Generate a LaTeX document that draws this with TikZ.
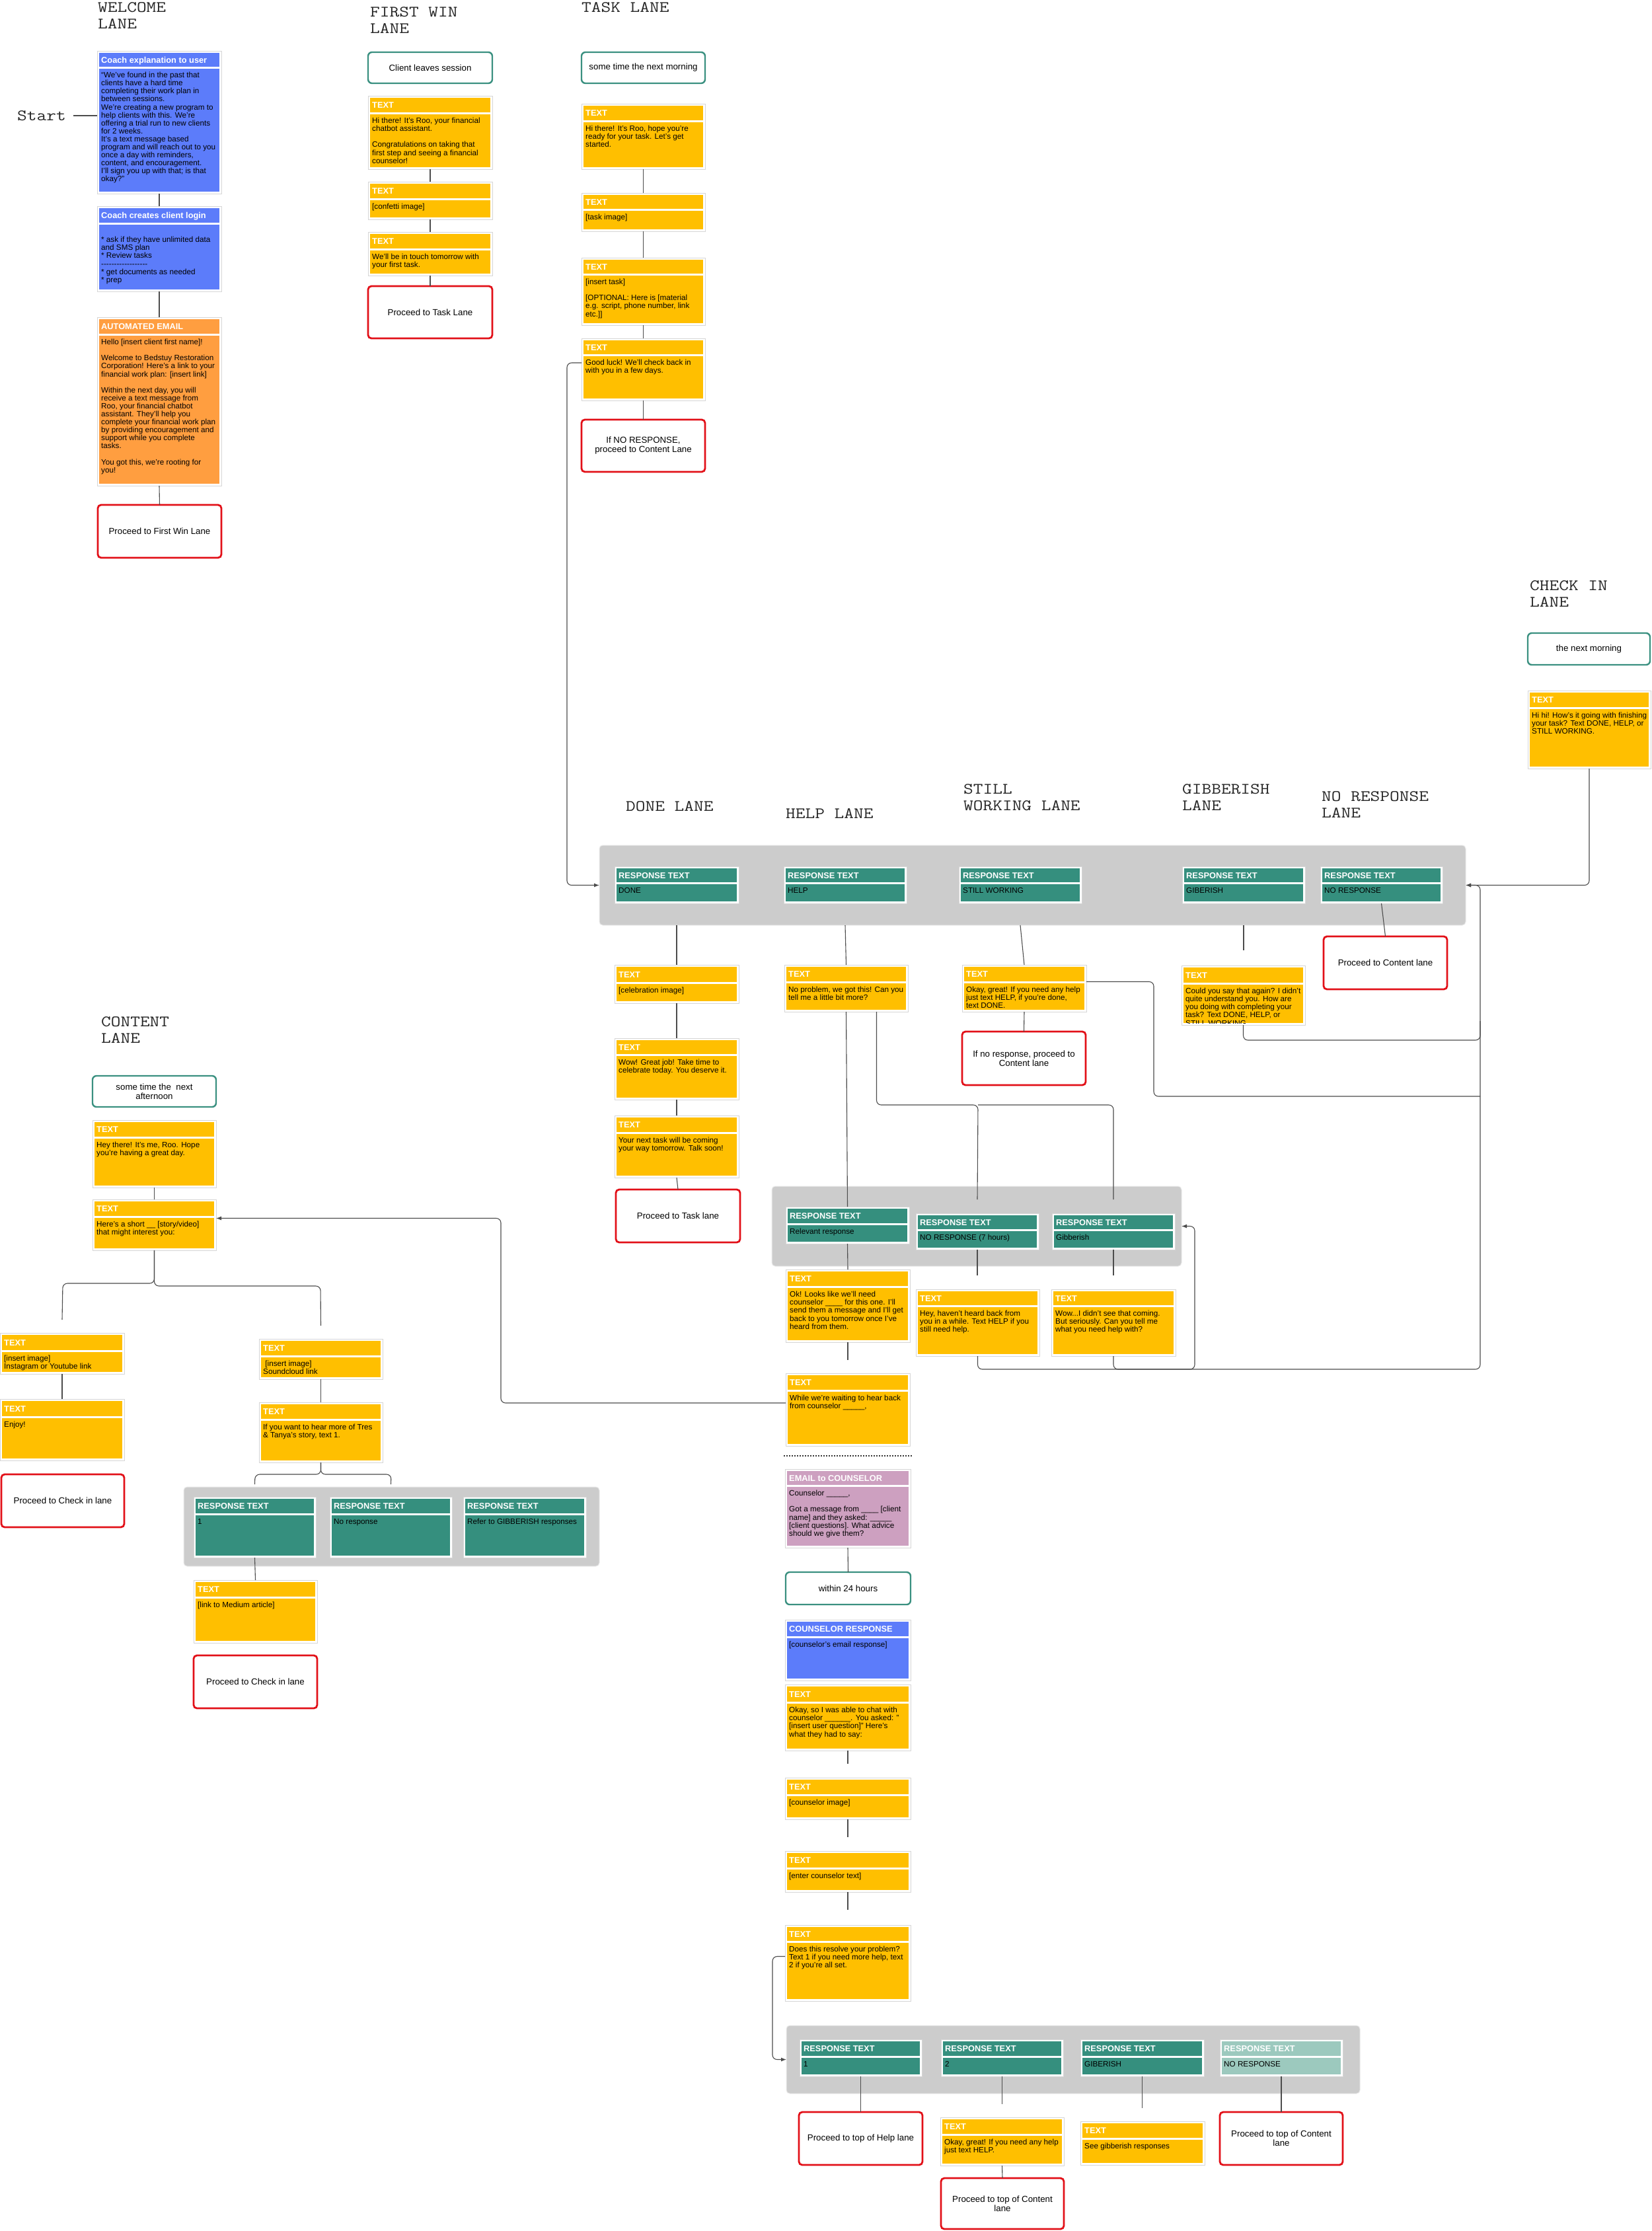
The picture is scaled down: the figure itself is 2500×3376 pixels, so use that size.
\documentclass[tikz,border=0pt]{standalone}
\usepackage{fontspec}
\setmainfont{Liberation Sans}
\newfontfamily\lanefont{Latin Modern Mono}[FakeStretch=1.19]
\usetikzlibrary{arrows.meta}
\definecolor{yel}{RGB}{255,191,0}
\definecolor{blu}{RGB}{92,124,250}
\definecolor{org}{RGB}{255,158,64}
\definecolor{tea}{RGB}{53,143,126}
\definecolor{ltea}{RGB}{156,201,190}
\definecolor{pnk}{RGB}{205,160,192}
\definecolor{redb}{RGB}{226,16,24}
\definecolor{tealb}{RGB}{58,144,128}
\definecolor{greyf}{RGB}{204,204,204}
\newcommand\hdrsize{\fontsize{12.8}{14}\selectfont\bfseries}
\newcommand\bdysize{\fontsize{11.7}{12.1}\selectfont}
\newcommand\boxsize{\fontsize{13.3}{14}\selectfont}
\newcommand\titlesize{\lanefont\fontsize{24}{25.5}\selectfont}
\newcommand\hy{\mbox{-}}
\tikzset{
  cardframe/.style={rectangle, draw=black!16, fill=white, line width=0.8pt, inner sep=0pt, outer sep=0pt},
  hdr/.style={font=\hdrsize, text=white, inner sep=0pt},
  bdy/.style={font=\bdysize, text=black, align=left, inner sep=0pt},
  redbox/.style={rectangle, draw=redb, line width=2.8pt, rounded corners=5pt, fill=white, inner sep=0pt, outer sep=0pt, align=center, font=\boxsize},
  tealbox/.style={rectangle, draw=tealb, line width=2.4pt, rounded corners=6pt, fill=white, inner sep=0pt, outer sep=0pt, align=center, font=\boxsize},
  greybox/.style={rectangle, fill=greyf, draw=black!8, line width=1pt, rounded corners=5pt, inner sep=0pt, outer sep=0pt},
  lanetitle/.style={font=\titlesize, align=left, inner sep=0pt, text=black!85},
  conn/.style={draw=black!70, line width=1.1pt},
  arr/.style={-{Latex[length=8pt,width=6pt]}},
  rc/.style={rounded corners=7pt},
}
% name, left, top, right, bottom, header bottom, colour, header, body
\newcommand\card[9]{%
  \node[cardframe, anchor=north west, minimum width=#4-#2, minimum height=#5-#3] (#1) at (#2,#3) {};
  \fill[#7] (#2+3,#3+3) rectangle (#4-3,#6);
  \fill[#7] (#2+3,#6+2.5) rectangle (#4-3,#5-3);
  \node[hdr, anchor=base west] at (#2+6,{(#3+3+#6)/2+4.6}) {#8};
  \begin{scope}
    \clip (#2+3,#6+2.5) rectangle (#4-3,#5-3);
    \node[bdy, anchor=north west] at (#2+6,#6+8) {#9};
  \end{scope}
}
% name, style, left, top, right, bottom, text
\newcommand\plainbox[7]{%
  \node[#2, anchor=north west, minimum width=#5-#3, minimum height=#6-#4] (#1) at (#3,#4) {#7};
}
\begin{document}
\begin{tikzpicture}[x=1pt,y=-1pt]
\fill[white] (0,0) rectangle (2500,3376);
\useasboundingbox (0,0) rectangle (2500,3376);

% ---------------- lane titles
\node[lanetitle, anchor=north west] (tWel) at (148,3) {WELCOME\\LANE};
\node[lanetitle, anchor=north west] (tFw) at (560,10) {FIRST WIN\\LANE};
\node[lanetitle, anchor=north west] (tTk) at (880,3) {TASK LANE};
\node[lanetitle, anchor=north west] (tCk) at (2315,878) {CHECK IN\\LANE};
\node[lanetitle, anchor=north west] (tDn) at (947,1212) {DONE LANE};
\node[lanetitle, anchor=north west] (tHp) at (1189,1223) {HELP LANE};
\node[lanetitle, anchor=north west] (tSw) at (1458,1186) {STILL\\WORKING LANE};
\node[lanetitle, anchor=north west] (tGb) at (1789,1186) {GIBBERISH\\LANE};
\node[lanetitle, anchor=north west] (tNr) at (2000,1197) {NO RESPONSE\\LANE};
\node[lanetitle, anchor=north west] (tCt) at (153,1538) {CONTENT\\LANE};

% ---------------- welcome lane
\node[font=\titlesize, anchor=west, inner sep=0pt, text=black!85] (start) at (26,175) {Start};
\card{wel1}{147}{77}{335}{293}{101}{blu}{Coach explanation to user}{“We've found in the past that\\clients have a hard time\\completing their work plan in\\between sessions.\\We're creating a new program to\\help clients with this. We're\\offering a trial run to new clients\\for 2 weeks.\\It's a text message based\\program and will reach out to you\\once a day with reminders,\\content, and encouragement.\\I'll sign you up with that; is that\\okay?”}
\card{wel2}{147}{312}{335}{441}{337}{blu}{Coach creates client login}{\strut\\{*} ask if they have unlimited data\\and SMS plan\\{*} Review tasks\\\hy\hy\hy\hy\hy\hy\hy\hy\hy\hy\hy\hy\hy\hy\hy\hy\hy\hy\\{*} get documents as needed\\{*} prep}
\card{wel3}{147}{480}{335}{735}{505}{org}{AUTOMATED EMAIL}{Hello [insert client first name]!\\[12.1pt]Welcome to Bedstuy Restoration\\Corporation! Here's a link to your\\financial work plan: [insert link]\\[12.1pt]Within the next day, you will\\receive a text message from\\Roo, your financial chatbot\\assistant. They'll help you\\complete your financial work plan\\by providing encouragement and\\support while you complete\\tasks.\\[12.1pt]You got this, we're rooting for\\you!}
\plainbox{welred}{redbox}{148}{764}{335}{844}{Proceed to First Win Lane}

% ---------------- first win lane
\plainbox{fwteal}{tealbox}{557}{79}{745}{126}{Client leaves session}
\card{fw1}{557}{145}{745}{256}{170}{yel}{TEXT}{Hi there! It's Roo, your financial\\chatbot assistant.\\[12.1pt]Congratulations on taking that\\first step and seeing a financial\\counselor!}
\card{fw2}{557}{275}{745}{332}{300}{yel}{TEXT}{[confetti image]}
\card{fw3}{557}{351}{745}{417}{376}{yel}{TEXT}{We'll be in touch tomorrow with\\your first task.}
\plainbox{fwred}{redbox}{557}{433}{745}{512}{Proceed to Task Lane}

% ---------------- task lane
\plainbox{tkteal}{tealbox}{880}{79}{1067}{126}{some time the next morning}
\card{tk1}{880}{157}{1067}{256}{182}{yel}{TEXT}{Hi there! It's Roo, hope you're\\ready for your task. Let's get\\started.}
\card{tk2}{880}{292}{1067}{350}{316}{yel}{TEXT}{[task image]}
\card{tk3}{880}{390}{1067}{492}{414}{yel}{TEXT}{[insert task]\\[12.1pt][OPTIONAL: Here is [material\\e.g. script, phone number, link\\etc.]]}
\card{tk4}{880}{512}{1067}{606}{536}{yel}{TEXT}{Good luck! We'll check back in\\with you in a few days.}
\plainbox{tkred}{redbox}{880}{635}{1067}{714}{If NO RESPONSE,\\proceed to Content Lane}

% ---------------- check in lane
\plainbox{ckteal}{tealbox}{2312}{958}{2497}{1006}{the next morning}
\card{ck1}{2312}{1045}{2498}{1163}{1070}{yel}{TEXT}{Hi hi! How's it going with finishing\\your task? Text DONE, HELP, or\\STILL WORKING.}

% ---------------- main response box
\node[greybox, anchor=north west, minimum width=1311, minimum height=121] (mainbox) at (907,1279) {};
\card{rDone}{930}{1311}{1118}{1367}{1335}{tea}{RESPONSE TEXT}{DONE}
\card{rHelp}{1186}{1311}{1372}{1367}{1335}{tea}{RESPONSE TEXT}{HELP}
\card{rStill}{1451}{1311}{1637}{1367}{1335}{tea}{RESPONSE TEXT}{STILL WORKING}
\card{rGib}{1789}{1311}{1975}{1367}{1335}{tea}{RESPONSE TEXT}{GIBERISH}
\card{rNo}{1998}{1311}{2183}{1367}{1335}{tea}{RESPONSE TEXT}{NO RESPONSE}

% ---------------- done lane
\card{dn1}{930}{1460}{1118}{1518}{1486}{yel}{TEXT}{[celebration image]}
\card{dn2}{930}{1571}{1118}{1664}{1595}{yel}{TEXT}{Wow! Great job! Take time to\\celebrate today. You deserve it.}
\card{dn3}{930}{1688}{1118}{1782}{1713}{yel}{TEXT}{Your next task will be coming\\your way tomorrow. Talk soon!}
\plainbox{dnred}{redbox}{932}{1800}{1120}{1880}{Proceed to Task lane}

% ---------------- help / still / gibberish / no response lanes
\card{hp1}{1187}{1460}{1374}{1531}{1485}{yel}{TEXT}{No problem, we got this! Can you\\tell me a little bit more?}
\card{sw}{1456}{1460}{1644}{1531}{1485}{yel}{TEXT}{Okay, great! If you need any help\\just text HELP, if you're done,\\text DONE.}
\plainbox{swred}{redbox}{1456}{1561}{1643}{1642}{If no response, proceed to\\Content lane}
\card{gt}{1788}{1461}{1975}{1551}{1487}{yel}{TEXT}{Could you say that again? I didn't\\quite understand you. How are\\you doing with completing your\\task? Text DONE, HELP, or\\STILL WORKING.}
\plainbox{noRed}{redbox}{2003}{1417}{2190}{1497}{Proceed to Content lane}

\node[greybox, anchor=north west, minimum width=620, minimum height=121] (hbox) at (1168,1795) {};
\card{hr1}{1189}{1826}{1376}{1882}{1851}{tea}{RESPONSE TEXT}{Relevant response}
\card{hr2}{1386}{1836}{1572}{1891}{1860}{tea}{RESPONSE TEXT}{NO RESPONSE (7 hours)}
\card{hr3}{1592}{1836}{1778}{1891}{1860}{tea}{RESPONSE TEXT}{Gibberish}
\card{hp2}{1189}{1921}{1377}{2031}{1946}{yel}{TEXT}{Ok! Looks like we'll need\\counselor \_\_\_\_ for this one. I'll\\send them a message and I'll get\\back to you tomorrow once I've\\heard from them.}
\card{hp3}{1386}{1951}{1573}{2052}{1975}{yel}{TEXT}{Hey, haven't heard back from\\you in a while. Text HELP if you\\still need help.}
\card{hp4}{1591}{1951}{1779}{2052}{1975}{yel}{TEXT}{Wow...I didn't see that coming.\\But seriously. Can you tell me\\what you need help with?}
\card{hp5}{1189}{2078}{1377}{2188}{2103}{yel}{TEXT}{While we're waiting to hear back\\from counselor \_\_\_\_\_,}

\draw[black!80, line width=1.6pt, dash pattern=on 2pt off 2pt] (1186,2203) -- (1380,2203);

\card{em}{1188}{2223}{1378}{2342}{2247}{pnk}{EMAIL to COUNSELOR}{Counselor \_\_\_\_\_,\\[12.1pt]Got a message from \_\_\_\_ [client\\name] and they asked: \_\_\_\_\_\\{}[client questions]. What advice\\should we give them?}
\plainbox{w24}{tealbox}{1189}{2379}{1378}{2428}{within 24 hours}
\card{cresp}{1188}{2451}{1378}{2543}{2476}{blu}{COUNSELOR RESPONSE}{[counselor's email response]}
\card{hl1}{1188}{2549}{1378}{2649}{2575}{yel}{TEXT}{Okay, so I was able to chat with\\counselor \_\_\_\_\_\_. You asked: "\\{}[insert user question]" Here's\\what they had to say:}
\card{hl2}{1188}{2690}{1378}{2753}{2715}{yel}{TEXT}{[counselor image]}
\card{hl3}{1188}{2801}{1378}{2863}{2826}{yel}{TEXT}{[enter counselor text]}
\card{hl4}{1188}{2913}{1378}{3028}{2937}{yel}{TEXT}{Does this resolve your problem?\\Text 1 if you need more help, text\\2 if you're all set.}

% ---------------- bottom response box
\node[greybox, anchor=north west, minimum width=868, minimum height=103] (bbox) at (1190,3065) {};
\card{b1}{1210}{3086}{1395}{3142}{3111}{tea}{RESPONSE TEXT}{1}
\card{b2}{1424}{3086}{1609}{3142}{3111}{tea}{RESPONSE TEXT}{2}
\card{b3}{1635}{3086}{1822}{3142}{3111}{tea}{RESPONSE TEXT}{GIBERISH}
\card{b4}{1846}{3086}{2032}{3142}{3111}{ltea}{RESPONSE TEXT}{NO RESPONSE}
\plainbox{bred1}{redbox}{1209}{3196}{1396}{3276}{Proceed to top of Help lane}
\card{bt2}{1423}{3204}{1610}{3277}{3229}{yel}{TEXT}{Okay, great! If you need any help\\just text HELP.}
\plainbox{bred2}{redbox}{1424}{3296}{1610}{3373}{Proceed to top of Content\\lane}
\card{bt3}{1635}{3210}{1823}{3276}{3235}{yel}{TEXT}{See gibberish responses}
\plainbox{bred4}{redbox}{1846}{3196}{2032}{3276}{Proceed to top of Content\\lane}

% ---------------- content lane
\plainbox{ctteal}{tealbox}{140}{1628}{327}{1675}{some time the \ next\\afternoon}
\card{ct1}{140}{1695}{327}{1797}{1720}{yel}{TEXT}{Hey there! It's me, Roo. Hope\\you're having a great day.}
\card{ct2}{140}{1815}{327}{1892}{1840}{yel}{TEXT}{Here's a short \_\_ [story/video]\\that might interest you:}
\card{ct3}{0}{2017}{188}{2079}{2043}{yel}{TEXT}{[insert image]\\Instagram or Youtube link}
\card{ct4}{0}{2117}{188}{2210}{2143}{yel}{TEXT}{Enjoy!}
\plainbox{ctred1}{redbox}{2}{2231}{188}{2311}{Proceed to Check in lane}
\card{ct5}{392}{2026}{579}{2087}{2051}{yel}{TEXT}{\ [insert image]\\Soundcloud link}
\card{ct6}{392}{2122}{579}{2213}{2147}{yel}{TEXT}{If you want to hear more of Tres\\\& Tanya's story, text 1.}
\node[greybox, anchor=north west, minimum width=629, minimum height=120] (ctbox) at (278,2250) {};
\card{cr1}{293}{2265}{478}{2357}{2290}{tea}{RESPONSE TEXT}{1}
\card{cr2}{499}{2265}{684}{2357}{2290}{tea}{RESPONSE TEXT}{No response}
\card{cr3}{701}{2265}{887}{2357}{2290}{tea}{RESPONSE TEXT}{Refer to GIBBERISH responses}
\card{ct7}{293}{2391}{480}{2486}{2416}{yel}{TEXT}{[link to Medium article]}
\plainbox{ctred2}{redbox}{293}{2505}{480}{2585}{Proceed to Check in lane}

% ---------------- junction coordinates
\coordinate (jA) at (1480,1672);
\coordinate (jB) at (1685,1672);
\coordinate (rJ) at (2240,2072);
\coordinate (hJ) at (1808,2072);
\coordinate (gJ) at (2240,1574);
\coordinate (gK) at (2240,1545);
\coordinate (sJ) at (1746,1659);
\coordinate (sK) at (2240,1659);
\coordinate (cbL) at (95,1942);
\coordinate (cbR) at (485,1946);
\coordinate (cbL2) at (386,2231);
\coordinate (cbR2) at (592,2231);

% ---------------- connectors
\draw[conn] ([xshift=11pt]start.east) -- (start.east -| wel1.west);
\draw[conn] (wel1.south) -- (wel2.north);
\draw[conn] (wel2.south) -- (wel3.north);
\draw[conn] (wel3.south) -- (welred.north);

\draw[conn] (fw1.south) -- (fw2.north);
\draw[conn] (fw2.south) -- (fw3.north);
\draw[conn] (fw3.south) -- (fwred.north);

\draw[conn] (tk1.south) -- (tk2.north);
\draw[conn] (tk2.south) -- (tk3.north);
\draw[conn] (tk3.south) -- (tk4.north);
\draw[conn] (tk4.south) -- (tkred.north);
\draw[conn,arr,rc] ([yshift=10pt]tk4.west) -- ++(-22,0) |- (mainbox.west);

\draw[conn,arr,rc] (ck1.south) |- (mainbox.east);

\draw[conn] (rDone.south |- mainbox.south) -- (dn1.north);
\draw[conn] (dn1.south) -- (dn2.north);
\draw[conn] (dn2.south) -- (dn3.north);
\draw[conn] (dn3.south) -- (dnred.north);

\draw[conn] (rHelp.south |- mainbox.south) -- (hp1.north);
\draw[conn] (hp1.south) -- (hr1.north);
\draw[conn,rc] ([xshift=46pt]hp1.south) |- (jA) -- ([yshift=21pt]hr2.north);
\draw[conn,rc] (jA) -- (jB) -- ([yshift=21pt]hr3.north);
\draw[conn] (hr1.south) -- (hp2.north);
\draw[conn] (hr2.south) -- ++(0,39);
\draw[conn] (hr3.south) -- ++(0,39);
\draw[conn] (hp2.south) -- ++(0,27);
\draw[conn,arr,rc] ([yshift=10pt]hp5.west) -- ++(-431,0) |- ([yshift=10pt]ct2.east);
\draw[conn,arr,rc] (hp3.south) |- (rJ) |- (mainbox.east);
\draw[conn,arr,rc] (hp4.south) |- (hJ) |- (hbox.east);

\draw[conn] (rStill.south |- mainbox.south) -- (sw.north);
\draw[conn] (sw.south) -- (swred.north);
\draw[conn,rc] ([yshift=10pt]sw.east) -| (sJ) -- (sK);

\draw[conn] (rGib.south |- mainbox.south) -- ++(0,38);
\draw[conn,rc] (gt.south) |- (gJ) -- (gK);

\draw[conn] (rNo.south) -- (noRed.north);

\draw[conn] (em.south) -- (w24.north);
\draw[conn] (hl1.south) -- ++(0,20);
\draw[conn] (hl2.south) -- ++(0,27);
\draw[conn] (hl3.south) -- ++(0,27);
\draw[conn,arr,rc] ([yshift=10pt]hl4.west) -- ++(-19,0) |- (bbox.west);

\draw[conn] (b1.south) -- (bred1.north);
\draw[conn] (b2.south) -- ++(0,42);
\draw[conn] (b3.south) -- ++(0,48);
\draw[conn] (b4.south) -- (bred4.north);
\draw[conn] (bt2.south) -- (bred2.north);

\draw[conn] (ct1.south) -- (ct2.north);
\draw[conn,rc] (ct2.south) |- (cbL) -- ([yshift=20pt]ct3.north);
\draw[conn,rc] (ct2.south) |- (cbR) -- ([yshift=20pt]ct5.north);
\draw[conn] (ct3.south) -- (ct4.north);
\draw[conn] (ct5.south) -- (ct6.north);
\draw[conn,rc] (ct6.south) |- (cbL2) -- ([yshift=19pt]cr1.north);
\draw[conn,rc] (ct6.south) |- (cbR2) -- ([yshift=19pt]cr2.north);
\draw[conn] (cr1.south) -- (ct7.north);
\end{tikzpicture}
\end{document}
